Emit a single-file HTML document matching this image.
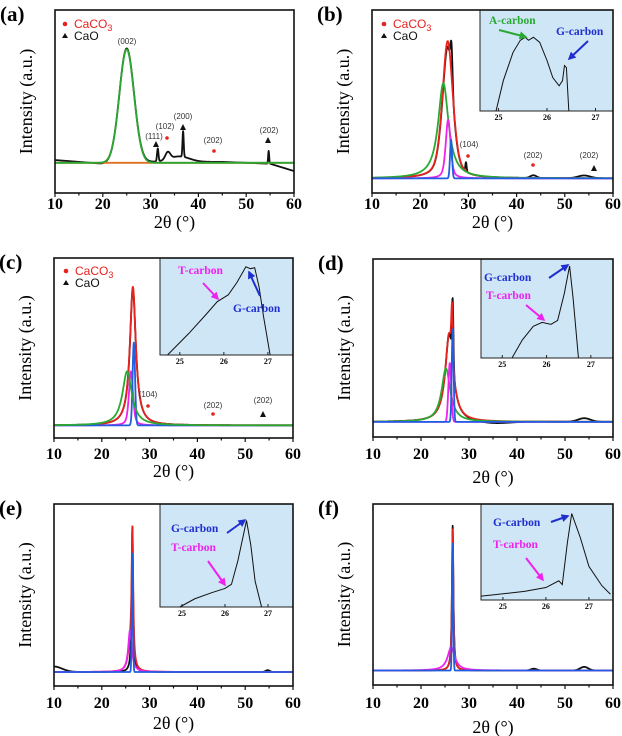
<!DOCTYPE html>
<html><head><meta charset="utf-8">
<style>
html,body{margin:0;padding:0;background:#fff;}
svg{display:block;}
.tk{font-family:"Liberation Serif","DejaVu Serif",serif;font-weight:700;font-size:16px;}
.xl{font-family:"Liberation Serif",serif;font-size:18px;}
.yl{font-family:"Liberation Serif",serif;font-size:18px;}
.pl{font-family:"Liberation Serif",serif;font-weight:700;font-size:21px;}
.lg{font-family:"Liberation Sans",sans-serif;font-size:12px;}
.pk{font-family:"Liberation Sans",sans-serif;font-size:8px;fill:#333;}
.il{font-family:"Liberation Serif",serif;font-weight:700;font-size:11.5px;}
.it{font-family:"Liberation Serif",serif;font-weight:700;font-size:8px;}
</style></head>
<body>
<svg id="fig" width="622" height="736" viewBox="0 0 622 736" xmlns="http://www.w3.org/2000/svg">
<defs>
<marker id="ah" viewBox="0 0 10 10" refX="8" refY="5" markerWidth="4" markerHeight="4" orient="auto-start-reverse"><path d="M0,0 L10,5 L0,10 z" fill="context-stroke"/></marker>
</defs>
</svg>
<script>
// ---- x-axis ticks ----
const xTicks = [10,20,30,40,50,60];
const insetTicks = [25,26,27];
// ---- peak parameters [center, height, fwhm, shape] ----
const aBlack = [[25,0.62,3.6,'g'],[31.5,0.07,0.35,'g'],[33.6,0.04,1.2,'g'],[36,0.03,5,'g'],[36.8,0.14,0.3,'g'],[54.7,0.07,0.25,'g']];
const aBlackBase = [[10,0.18],[20,0.16],[25,0.17],[45,0.17],[55,0.16],[60,0.12]];
const aGreen = [[25,0.62,3.6,'g']];
const aOrangeBase = [[10,0.165],[60,0.165]];
const bBlack = [[25.7,0.72,2.6,'v'],[26.5,0.2,0.5,'g'],[29.5,0.05,0.3,'g'],[43.5,0.015,1.5,'g'],[54,0.015,3,'g']];
const bRed = [[25.7,0.75,2.6,'v']];
const bGreen = [[24.8,0.52,2.6,'l']];
const bMagenta = [[25.8,0.32,1.2,'v']];
const bBlue = [[26.4,0.21,0.5,'g']];
const cBlack = [[26.5,0.76,1.5,'l']];
const cRed = [[26.5,0.77,1.5,'l']];
const cBlue = [[26.7,0.46,0.6,'g']];
const cMagenta = [[26.1,0.3,1.0,'v']];
const cGreen = [[25.3,0.3,2.4,'l']];
const dBlack = [[26.6,0.36,0.35,'g'],[25.9,0.5,2.0,'l'],[54,0.02,3,'g'],[35,-0.012,8,'g']];
const dRed = [[26.5,0.3,0.4,'g'],[25.9,0.5,2.0,'l']];
const dBlue = [[26.6,0.52,0.45,'g']];
const dMagenta = [[26,0.33,0.7,'g']];
const dGreen = [[25.2,0.3,2.2,'l']];
const eBlack = [[26.4,0.8,0.35,'l'],[10,0.03,4,'g'],[54.7,0.01,1,'g']];
const eRed = [[26.4,0.74,0.4,'l'],[25.9,0.12,1,'l']];
const eMagenta = [[25.9,0.23,0.9,'l']];
const eBlue = [[26.4,0.65,0.3,'g']];
const fBlack = [[26.6,0.8,0.35,'l'],[43.5,0.01,1.5,'g'],[54,0.02,2,'g']];
const fRed = [[26.6,0.78,0.35,'l']];
const fBlue = [[26.6,0.7,0.3,'g']];
const fMagenta = [[26.3,0.13,1.8,'l']];
// ---- inset curves [2theta, relative intensity] ----
const bInset = [[24.95,0],[25.1,0.3],[25.3,0.58],[25.45,0.7],[25.55,0.73],[25.62,0.7],[25.72,0.73],[25.85,0.68],[26.0,0.5],[26.12,0.33],[26.25,0.25],[26.32,0.3],[26.36,0.45],[26.4,0.43],[26.45,0]];
const cInset = [[24.72,0],[25.2,0.22],[25.6,0.42],[25.85,0.55],[26.1,0.62],[26.3,0.75],[26.5,0.91],[26.6,0.89],[26.7,0.9],[26.8,0.7],[26.9,0.4],[27.05,0]];
const dInset = [[25.22,0],[25.45,0.18],[25.7,0.32],[25.9,0.36],[26.1,0.34],[26.25,0.38],[26.4,0.65],[26.52,0.93],[26.6,0.6],[26.72,0]];
const eInset = [[24.95,0],[25.3,0.08],[25.7,0.14],[26.0,0.18],[26.15,0.22],[26.3,0.45],[26.5,0.84],[26.6,0.6],[26.7,0.25],[26.85,0]];
const fInset = [[24.5,0.04],[25.5,0.09],[26.0,0.13],[26.3,0.2],[26.38,0.16],[26.5,0.6],[26.6,0.9],[26.8,0.65],[27.0,0.35],[27.3,0.15],[27.5,0.06]];

const NS='http://www.w3.org/2000/svg';
const svg=document.getElementById('fig');
function mk(tag,attrs,parent,text){const e=document.createElementNS(NS,tag);for(const k in attrs)e.setAttribute(k,attrs[k]);if(text!==undefined)e.textContent=text;(parent||svg).appendChild(e);return e;}
function peakVal(p,x){const c=p[0],h=p[1],w=p[2],t=p[3];const d=(x-c)/(w/2);
 const g=h*Math.exp(-Math.LN2*d*d), l=h/(1+d*d);
 return t==='g'?g:(t==='l'?l:0.5*g+0.5*l);}
function baseAt(base,x){if(typeof base==='number')return base;for(let i=0;i<base.length-1;i++){if(x<=base[i+1][0]){const t=(x-base[i][0])/(base[i+1][0]-base[i][0]);return base[i][1]+t*(base[i+1][1]-base[i][1]);}}return base[base.length-1][1];}

const colors={black:'#111',red:'#e8221e',green:'#2aa832',magenta:'#ee22ee',blue:'#1f5ee0',orange:'#e07020'};
const panels=[
 {id:'a',L:55,R:294,T:10,B:193,lab:[203,222],series:[['black',aBlack,aBlackBase],['orange',[],aOrangeBase],['green',aGreen,0.165]]},
 {id:'b',L:372,R:613,T:10,B:193,lab:[203,222],series:[['black',bBlack,0.08],['red',bRed,0.08],['green',bGreen,0.08],['magenta',bMagenta,0.08],['blue',bBlue,0.08]],
   inset:{L:480,R:613,T:10,B:111,d0:24.62,d1:27.36,pts:bInset}},
 {id:'c',L:54,R:293,T:258,B:438,lab:[453,471],series:[['black',cBlack,0.07],['red',cRed,0.07],['magenta',cMagenta,0.07],['blue',cBlue,0.07],['green',cGreen,0.07]],
   inset:{L:160,R:293,T:258,B:355,d0:24.55,d1:27.57,pts:cInset}},
 {id:'d',L:373,R:613,T:259,B:437,lab:[453,477],series:[['black',dBlack,0.085],['red',dRed,0.085],['green',dGreen,0.085],['magenta',dMagenta,0.085],['blue',dBlue,0.085]],
   inset:{L:481,R:613,T:259,B:358,d0:24.52,d1:27.5,pts:dInset}},
 {id:'e',L:54,R:293,T:504,B:686,lab:[702,723],series:[['black',eBlack,0.077],['red',eRed,0.077],['magenta',eMagenta,0.077],['blue',eBlue,0.077]],
   inset:{L:160,R:293,T:504,B:607,d0:24.49,d1:27.58,pts:eInset}},
 {id:'f',L:373,R:613,T:504,B:685,lab:[702,727],series:[['black',fBlack,0.08],['red',fRed,0.08],['magenta',fMagenta,0.08],['blue',fBlue,0.08]],
   inset:{L:481,R:613,T:504,B:600,d0:24.49,d1:27.56,pts:fInset}}
];

panels.forEach(P=>{
 const g=mk('g',{});
 
 
 const xs=v=>P.L+(v-10)/50*(P.R-P.L);
 const ys=v=>P.B-v*(P.B-P.T);
 P.series.forEach(s=>{
  let d='';
  for(let x=10;x<=60.0001;x+=0.05){let y=baseAt(s[2],x);s[1].forEach(p=>y+=peakVal(p,x));d+=(d?'L':'M')+xs(x).toFixed(2)+','+ys(y).toFixed(2);}
  const pth=mk('path',{d:d,fill:'none',stroke:colors[s[0]],'stroke-width':1.8,'stroke-linejoin':'round'},g);
  
  
 });
 if(P.inset){const I=P.inset;
  const ig=mk('g',{},g);
  
  
  mk('rect',{x:I.L,y:I.T,width:I.R-I.L,height:I.B-I.T,fill:'#cfe6f6',stroke:'#222','stroke-width':1},ig);
  const ix=v=>I.L+(v-I.d0)/(I.d1-I.d0)*(I.R-I.L);
  const iy=v=>I.B-v*(I.B-I.T);
  let d='';I.pts.forEach((p,i)=>{d+=(i?'L':'M')+ix(p[0]).toFixed(2)+','+iy(p[1]).toFixed(2);});
  const ip=mk('path',{d:d,fill:'none',stroke:'#111','stroke-width':1},ig);
  
  
  insetTicks.forEach(t=>{mk('line',{x1:ix(t),x2:ix(t),y1:I.B,y2:I.B-3,stroke:'#222'},ig);
   const tl=mk('text',{x:ix(t),y:I.B+9,'text-anchor':'middle',class:'it'},ig,String(t));
   
   });
 }
 const fr=mk('rect',{x:P.L,y:P.T,width:P.R-P.L,height:P.B-P.T,fill:'none',stroke:'#111','stroke-width':1.6},g);
 
 
 for(let v=10;v<=60;v+=5){const maj=v%10===0;mk('line',{x1:xs(v),x2:xs(v),y1:P.B,y2:P.B+(maj?4:2.5),stroke:'#111','stroke-width':1.2},g);}
 xTicks.forEach(t=>{const tl=mk('text',{x:xs(t),y:P.lab[0]+6,'text-anchor':'middle',class:'tk'},g,String(t));
  
  });
 const xl=mk('text',{x:(P.L+P.R)/2,y:P.lab[1]+6,'text-anchor':'middle',class:'xl'},g,'2θ (°)');
 
 
 const ycx=P.L-23, ycy=(P.T+P.B)/2;
 const yl=mk('text',{x:ycx,y:ycy,'text-anchor':'middle',transform:'rotate(-90 '+ycx+' '+ycy+')',class:'yl'},g,'Intensity (a.u.)');
 
 
 const pl=mk('text',{x:P.L-55,y:P.T+11,class:'pl'},g,'('+P.id+')');
 
 
});

function legend(x,y){
 mk('circle',{cx:x,cy:y-4,r:2.3,fill:'#e8221e'});
 const t=mk('text',{x:x+9,y:y,class:'lg',fill:'#e8221e'});
 
 
 t.innerHTML='CaCO<tspan dy="3" font-size="9">3</tspan>';
 mk('path',{d:`M${x-3},${y+10} L${x},${y+5} L${x+3},${y+10}z`,fill:'#111'});
 const t2=mk('text',{x:x+9,y:y+12,class:'lg',fill:'#111'},svg,'CaO');
 
 
}
legend(65,28);legend(384,28);legend(66,275);
function lab(x,y,s){const t=mk('text',{x:x,y:y,'text-anchor':'middle',class:'pk'},svg,s);}
function dot(x,y){mk('circle',{cx:x,cy:y,r:1.8,fill:'#e8221e'});}
function tri(x,y){mk('path',{d:`M${x-3},${y+3} L${x},${y-3} L${x+3},${y+3}z`,fill:'#111'});}
lab(127,44,'(002)');lab(154,139,'(111)');tri(156,144);lab(165,129,'(102)');dot(167,138);
lab(183,119,'(200)');tri(183,127);lab(213,143,'(202)');dot(214,151);lab(269,133,'(202)');tri(268,140);
lab(469,147,'(104)');dot(468,156);lab(533,158,'(202)');dot(533,165);lab(589,158,'(202)');tri(594,168);
lab(148,397,'(104)');dot(148,406);lab(213,408,'(202)');dot(213,414);lab(263,403,'(202)');tri(263,414);

function ilab(x,y,s,c){const t=mk('text',{x:x,y:y,class:'il',fill:c},svg,s);}
function arr(x1,y1,x2,y2,c){const l=mk('line',{x1:x1,y1:y1,x2:x2,y2:y2,stroke:c,'stroke-width':2,'marker-end':'url(#ah)'});}
const G='#2aa832',B='#1f2fd0',M='#ee22ee';
ilab(489,24,'A-carbon',G);arr(499,30,526,37,G);ilab(556,35,'G-carbon',B);arr(588,41,569,59,B);
ilab(178,274,'T-carbon',M);arr(203,283,218,299,M);ilab(233,312,'G-carbon',B);arr(260,296,249,272,B);
ilab(484,281,'G-carbon',B);arr(549,278,568,265,B);ilab(486,299,'T-carbon',M);arr(526,305,544,320,M);
ilab(171,532,'G-carbon',B);arr(227,533,245,520,B);ilab(171,551,'T-carbon',M);arr(208,561,225,585,M);
ilab(493,526,'G-carbon',B);arr(551,522,568,516,B);ilab(493,548,'T-carbon',M);arr(526,558,543,580,M);
</script>
</body></html>
